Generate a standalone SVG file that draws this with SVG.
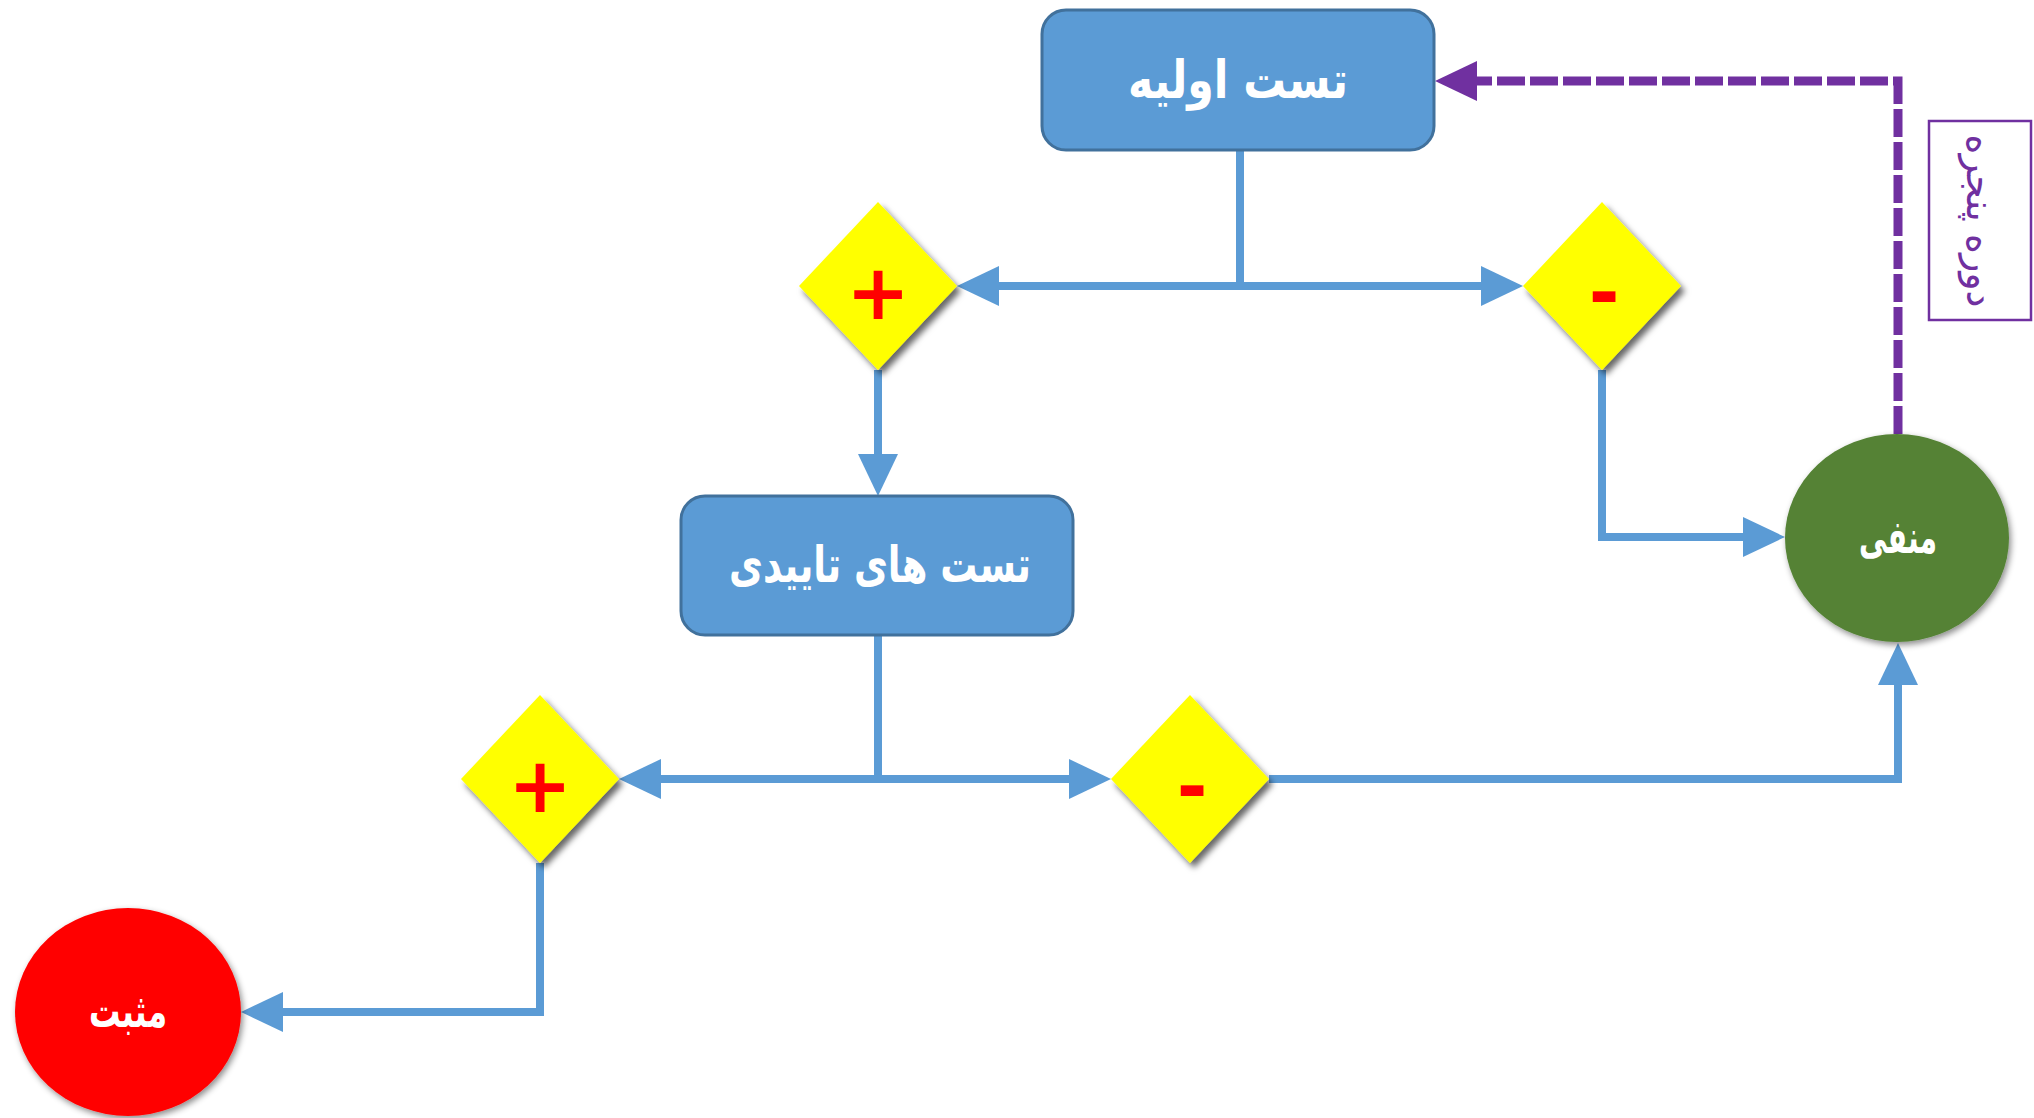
<svg xmlns="http://www.w3.org/2000/svg" width="2034" height="1118" viewBox="0 0 2034 1118">
<style>
.box{fill:#5B9BD5;stroke:#41719C;stroke-width:3}
.dia{fill:#FFFF00;filter:url(#sh)}
.lbl{font-family:"DejaVu Sans",sans-serif;font-weight:bold;fill:#FFFFFF;text-anchor:middle}
.sign{font-family:"DejaVu Sans",sans-serif;font-weight:bold;fill:#FF0000;text-anchor:middle}
.con{fill:none;stroke:#5B9BD5;stroke-width:8}
.back{fill:none;stroke:#7030A0;stroke-width:9;stroke-dasharray:28 5}
</style>
<defs>
<filter id="sh" x="-20%" y="-20%" width="150%" height="150%">
<feDropShadow dx="4" dy="5" stdDeviation="3" flood-color="#000" flood-opacity="0.6"/>
</filter>
<filter id="csh" x="-20%" y="-20%" width="150%" height="150%">
<feDropShadow dx="2" dy="3" stdDeviation="3" flood-color="#000" flood-opacity="0.45"/>
</filter>
<marker id="ab" markerUnits="userSpaceOnUse" markerWidth="44" markerHeight="42" refX="0" refY="21" orient="auto">
<path d="M0,1 L42,21 L0,41 z" fill="#5B9BD5"/>
</marker>
<marker id="ap" markerUnits="userSpaceOnUse" markerWidth="44" markerHeight="42" refX="0" refY="21" orient="auto">
<path d="M0,1 L42,21 L0,41 z" fill="#7030A0"/>
</marker>
</defs>
<rect width="2034" height="1118" fill="#FFFFFF"/>
<g id="connectors">
<path class="con" d="M1240,150 V286 H999" marker-end="url(#ab)"/>
<path class="con" d="M1240,286 H1481" marker-end="url(#ab)"/>
<path class="con" d="M878,370 V454" marker-end="url(#ab)"/>
<path class="con" d="M1602,370 V537 H1743" marker-end="url(#ab)"/>
<path class="con" d="M878,635 V779 H661" marker-end="url(#ab)"/>
<path class="con" d="M878,779 H1069" marker-end="url(#ab)"/>
<path class="con" d="M1269,779 H1898 V685" marker-end="url(#ab)"/>
<path class="con" d="M540,863 V1012 H283" marker-end="url(#ab)"/>
<path class="back" d="M1898,434 V81 H1477" marker-end="url(#ap)"/>
</g>
<g id="initial-test">
<rect class="box" x="1042" y="10" width="392" height="140" rx="24"/>
<text class="lbl" x="1238" y="98" font-size="52" textLength="220" lengthAdjust="spacingAndGlyphs">تست اولیه</text>
</g>
<g id="plus1">
<polygon class="dia" points="878,202 957,286 878,370 799,286"/>
<text class="sign" x="878" y="319" font-size="76">+</text>
</g>
<g id="minus1">
<polygon class="dia" points="1602,202 1681,286 1602,370 1523,286"/>
<text class="sign" x="1604" y="318" font-size="74">-</text>
</g>
<g id="confirm-test">
<rect class="box" x="681" y="496" width="392" height="139" rx="24"/>
<text class="lbl" x="880" y="582" font-size="50" textLength="302" lengthAdjust="spacingAndGlyphs">تست های  تاییدی</text>
</g>
<g id="plus2">
<polygon class="dia" points="540,695 619,779 540,863 461,779"/>
<text class="sign" x="540" y="812" font-size="76">+</text>
</g>
<g id="minus2">
<polygon class="dia" points="1190,695 1269,779 1190,863 1111,779"/>
<text class="sign" x="1192" y="812" font-size="74">-</text>
</g>
<g id="negative">
<ellipse cx="1897" cy="538" rx="112" ry="104" fill="#548235" filter="url(#csh)"/>
<text class="lbl" x="1898" y="553" font-size="46" textLength="78" lengthAdjust="spacingAndGlyphs">منفی</text>
</g>
<g id="positive">
<ellipse cx="128" cy="1012" rx="113" ry="104" fill="#FF0000" filter="url(#csh)"/>
<text class="lbl" x="128" y="1027" font-size="46" textLength="78" lengthAdjust="spacingAndGlyphs">مثبت</text>
</g>
<g id="window-period">
<rect x="1929" y="121" width="102" height="199" fill="#FFFFFF" stroke="#7030A0" stroke-width="2.5"/>
<text x="0" y="0" transform="translate(1980,221) rotate(90)" font-family="DejaVu Sans,sans-serif" font-size="38" fill="#7030A0" text-anchor="middle" dominant-baseline="central">دوره پنجره</text>
</g>
</svg>
